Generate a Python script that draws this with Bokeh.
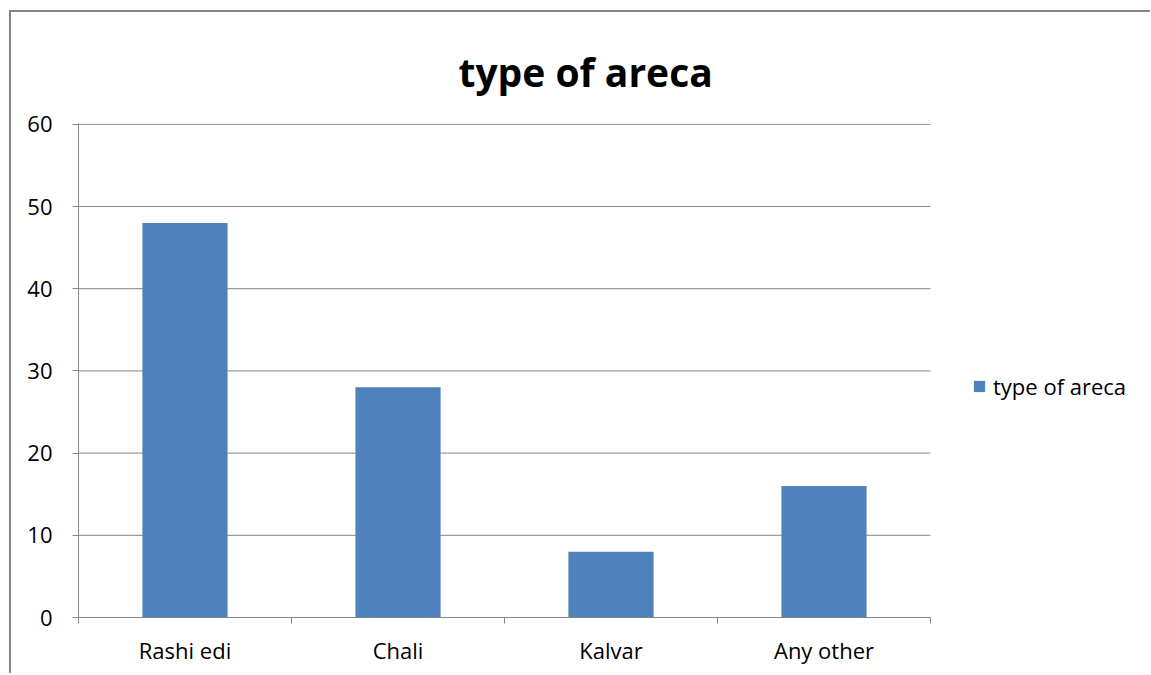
from bokeh.plotting import figure
from bokeh.models import (ColumnDataSource, FixedTicker, Legend, LegendItem, Range1d)
from bokeh.embed import file_html
from bokeh.resources import INLINE

title_text = "type of areca"
series_name = "type of areca"
categories = ["Rashi edi", "Chali", "Kalvar", "Any other"]
values = [48, 28, 8, 16]
y_ticks = [0, 10, 20, 30, 40, 50, 60]

BAR = "#4F81BD"
GRAY = "#868686"
FONT = "Open Sans"

n = len(categories)
x_pos = [i + 0.5 for i in range(n)]
src = ColumnDataSource(dict(x=x_pos, top=values, cat=categories))

# frame spans plot area + legend area; x range extends one extra slot for the legend
p = figure(width=1141, height=663, output_backend="svg", toolbar_location=None,
           x_range=Range1d(0, n + 1), y_range=Range1d(0, 60.1),
           min_border_left=67, min_border_right=9, min_border_top=111,
           min_border_bottom=58)
p.styles = {"border-left": "2px solid #868686", "border-top": "2px solid #868686",
            "margin-left": "9px", "margin-top": "10px"}
p.outline_line_color = None
p.background_fill_color = "white"
p.border_fill_color = "white"

# horizontal gridlines limited to the category area
p.xgrid.grid_line_color = None
p.ygrid.grid_line_color = None
p.segment(x0=[0] * len(y_ticks), x1=[n] * len(y_ticks), y0=y_ticks, y1=y_ticks,
          line_color=GRAY, line_width=1)

r = p.vbar(x="x", top="top", width=0.4, bottom=0, source=src,
           fill_color=BAR, line_color=None)

# y axis
p.yaxis.ticker = FixedTicker(ticks=y_ticks)
p.yaxis.axis_line_color = GRAY
p.yaxis.major_tick_line_color = GRAY
p.yaxis.major_tick_out = 6
p.yaxis.major_tick_in = 0
p.yaxis.minor_tick_line_color = None
p.yaxis.major_label_text_font = FONT
p.yaxis.major_label_text_font_size = "22px"
p.yaxis.major_label_text_color = "black"
p.yaxis.major_label_standoff = 20

# x axis: labels at centers, ticks at boundaries
p.xaxis.bounds = (0, n)
p.xaxis.ticker = FixedTicker(ticks=x_pos, minor_ticks=list(range(n + 1)))
p.xaxis.major_label_overrides = {x: c for x, c in zip(x_pos, categories)}
p.xaxis.axis_line_color = GRAY
p.xaxis.major_tick_line_color = None
p.xaxis.major_tick_out = 6
p.xaxis.minor_tick_line_color = GRAY
p.xaxis.minor_tick_out = 6
p.xaxis.minor_tick_in = 0
p.xaxis.major_label_text_font = FONT
p.xaxis.major_label_text_font_size = "22px"
p.xaxis.major_label_text_color = "black"
p.xaxis.major_label_standoff = 11

# title
p.title.text = title_text
p.title.align = "left"
p.title.offset = 380
p.title.text_font = FONT
p.title.text_font_size = "39px"
p.title.text_font_style = "bold"
p.title.text_color = "black"
p.title.vertical_align = "middle"
p.title.standoff = 50

# legend
leg = Legend(items=[LegendItem(label=series_name, renderers=[r])],
             location=(894, 216), glyph_width=14, glyph_height=14,
             label_standoff=7, padding=0, margin=0, border_line_color=None,
             background_fill_alpha=0, label_text_font=FONT,
             label_text_font_size="22px", label_text_color="black")
p.add_layout(leg, "center")

open("out.html", "w").write(file_html(p, INLINE))
